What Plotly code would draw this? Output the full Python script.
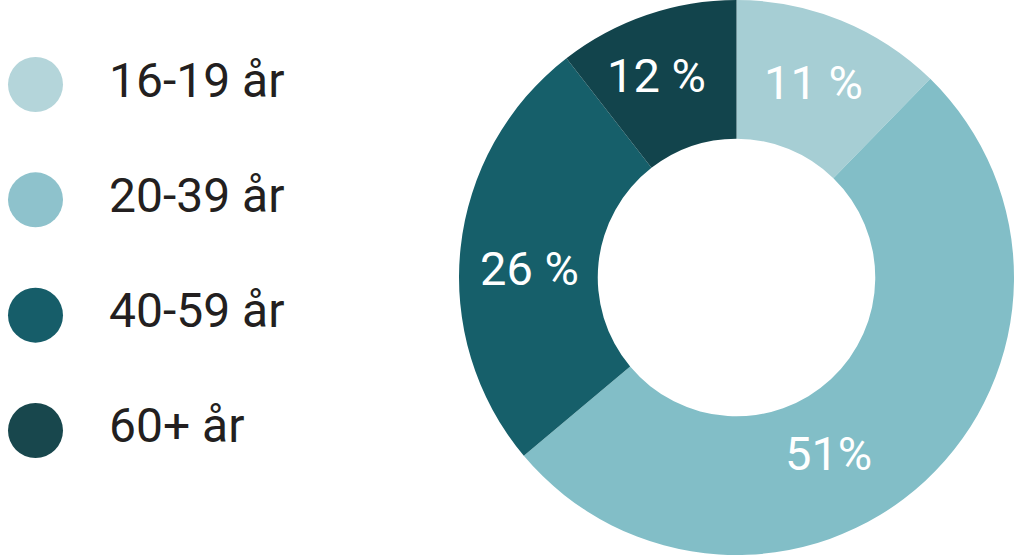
import plotly.graph_objects as go

categories = ["16-19 år", "20-39 år", "40-59 år", "60+ år"]
# slice sizes as drawn in the picture (printed labels below)
values = [12.3, 51.6, 25.6, 10.5]
slice_labels = ["11 %", "51%", "26 %", "12 %"]
pie_colors = ["#a6ced4", "#82bec7", "#165f6a", "#12444c"]
legend_colors = ["#b4d5da", "#8ec2cc", "#165d69", "#18474d"]

# label anchor positions (pixels) as placed in the original design
label_px = [(813, 82), (828, 453), (529, 268), (656, 76)]

W, H = 1017, 555

fig = go.Figure()

fig.add_trace(go.Pie(
    labels=categories,
    values=values,
    textinfo="none",
    marker=dict(colors=pie_colors, line=dict(width=0)),
    hole=0.5,
    sort=False,
    direction="clockwise",
    rotation=0,
    domain=dict(x=[0.4484, 1.0], y=[0.0, 1.0]),
    showlegend=False,
    hovertext=slice_labels,
    hoverinfo="label+text",
))

for txt, (px, py) in zip(slice_labels, label_px):
    fig.add_annotation(
        x=px / W, y=1 - py / H, xref="paper", yref="paper",
        text=txt, showarrow=False, xanchor="center", yanchor="middle",
        font=dict(family="Roboto", size=47, color="white"),
    )

# Custom legend built from categories
fig.add_trace(go.Scatter(
    x=[35.5] * len(categories),
    y=categories,
    mode="markers",
    marker=dict(size=55, color=legend_colors, line=dict(width=0)),
    showlegend=False,
    hoverinfo="skip",
    xaxis="x", yaxis="y",
))
fig.add_trace(go.Scatter(
    x=[109] * len(categories),
    y=categories,
    mode="text",
    text=categories,
    textposition="middle right",
    textfont=dict(family="Roboto", size=48, color="#231f20"),
    showlegend=False,
    hoverinfo="skip",
    xaxis="x", yaxis="y",
))

step = 115.33
first = 84.5
top = -first / step
bottom = (H - first) / step

fig.update_layout(
    width=W, height=H,
    margin=dict(l=0, r=0, t=0, b=0),
    paper_bgcolor="white",
    plot_bgcolor="rgba(0,0,0,0)",
    xaxis=dict(domain=[0, 320 / W], range=[0, 320], visible=False, fixedrange=True),
    yaxis=dict(type="category", categoryorder="array", categoryarray=categories,
               range=[bottom, top], visible=False, fixedrange=True),
)

fig.write_html(
    "out.html",
    config={"displayModeBar": False},
    post_script="document.body.style.margin='0';document.body.style.overflow='hidden';",
)
